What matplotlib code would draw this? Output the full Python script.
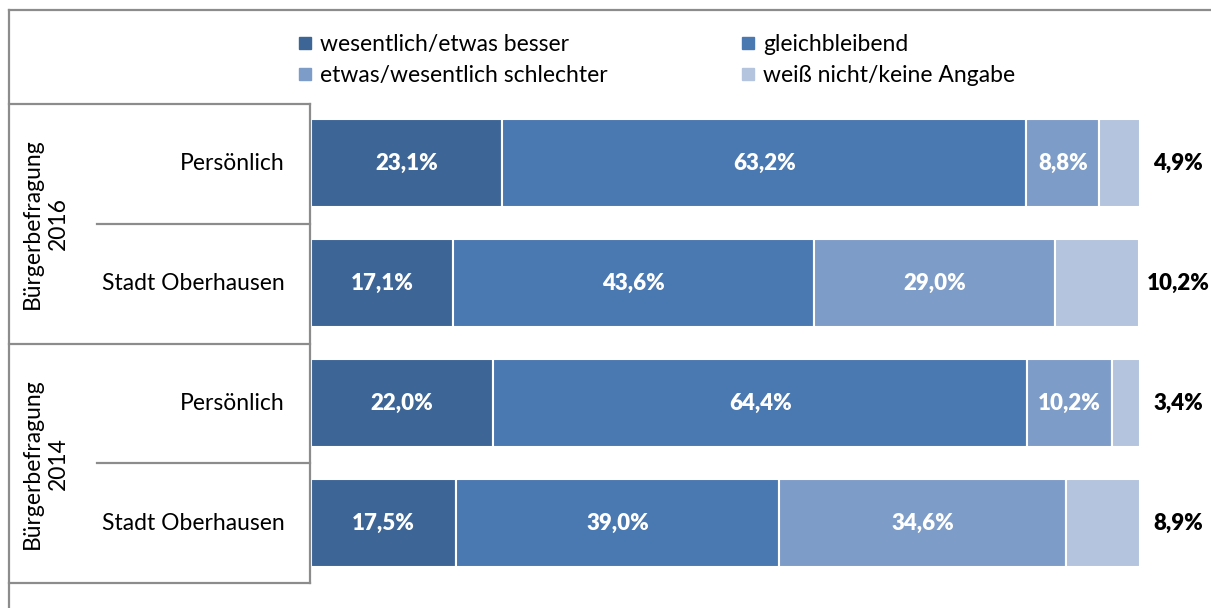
import matplotlib
matplotlib.use("Agg")
import matplotlib.pyplot as plt
from matplotlib.lines import Line2D
import numpy as np

plt.rcParams['font.family'] = ['Lato', 'DejaVu Sans']

W, H = 1211, 608

rows = ["Persönlich", "Stadt Oberhausen", "Persönlich", "Stadt Oberhausen"]
groups = ["Bürgerbefragung\n2016", "Bürgerbefragung\n2014"]
series = ["wesentlich/etwas besser", "gleichbleibend",
          "etwas/wesentlich schlechter", "weiß nicht/keine Angabe"]
besser = [23.1, 17.1, 22.0, 17.5]
gleich = [63.2, 43.6, 64.4, 39.0]
schlechter = [8.8, 29.0, 10.2, 34.6]
weiss_nicht = [4.9, 10.2, 3.4, 8.9]
colors = ["#3D6596", "#4A78B1", "#7E9CC8", "#B4C4DE"]

values = [besser, gleich, schlechter, weiss_nicht]


def fx(px):
    return px / W


def fy(py):
    return 1 - py / H


fig = plt.figure(figsize=(W / 100, H / 100), dpi=100)

# bar area
ax = fig.add_axes([fx(311), fy(583), fx(1140) - fx(311), fy(103) - fy(583)])
y = np.arange(len(rows))
left = np.zeros(len(rows))
for k, (vals, col) in enumerate(zip(values, colors)):
    vals = np.array(vals)
    ax.barh(y, vals, left=left, height=0.73, color=col,
            edgecolor="white", linewidth=1.5)
    for i, v in enumerate(vals):
        lab = f"{v:.1f}%".replace(".", ",")
        if k < 3:
            ax.text(left[i] + v / 2, y[i], lab, ha="center", va="center",
                    color="white", fontsize=16, fontweight="heavy")
        else:
            ax.text(104.6, y[i], lab, ha="center", va="center",
                    color="black", fontsize=16, fontweight="heavy", clip_on=False)
    left += vals

ax.set_xlim(0, 100)
ax.set_ylim(len(rows) - 0.5, -0.5)
ax.axis("off")

# row labels
for i, r in enumerate(rows):
    ax.text(fx(285), fy(164 + 120 * i), r, transform=fig.transFigure,
            ha="right", va="center", fontsize=16.5)

for g, name in enumerate(groups):
    fig.text(fx(45), fy(224 + 240 * g), name, rotation=90, ha="center",
             va="center", multialignment="center", fontsize=16.5,
             linespacing=1.3)

# table lines and outer frame
gray = "#8C8C8C"
segs = [
    ((9, 310), (104, 104)), ((97, 310), (224, 224)), ((9, 310), (344, 344)),
    ((97, 310), (463, 463)), ((9, 310), (583, 583)),
    ((310, 310), (104, 583)),
    ((9, 1211), (10, 10)), ((9, 9), (10, 608)),
]
for xs, ys in segs:
    fig.add_artist(Line2D([fx(xs[0]), fx(xs[1])], [fy(ys[0]), fy(ys[1])],
                          transform=fig.transFigure, color=gray, lw=1.6))

# legend
handles = [Line2D([], [], marker="s", linestyle="none", markersize=9,
                  markerfacecolor=c, markeredgecolor=c) for c in colors]
order = [0, 2, 1, 3]
fig.legend([handles[i] for i in order], [series[i] for i in order],
           loc="upper left", bbox_to_anchor=(fx(298), fy(34)), ncol=2,
           frameon=False, fontsize=16.5, handlelength=0.6, handletextpad=0.35,
           columnspacing=5.85, labelspacing=0.45, borderaxespad=0, borderpad=0)

fig.savefig("out.png", dpi=100)
